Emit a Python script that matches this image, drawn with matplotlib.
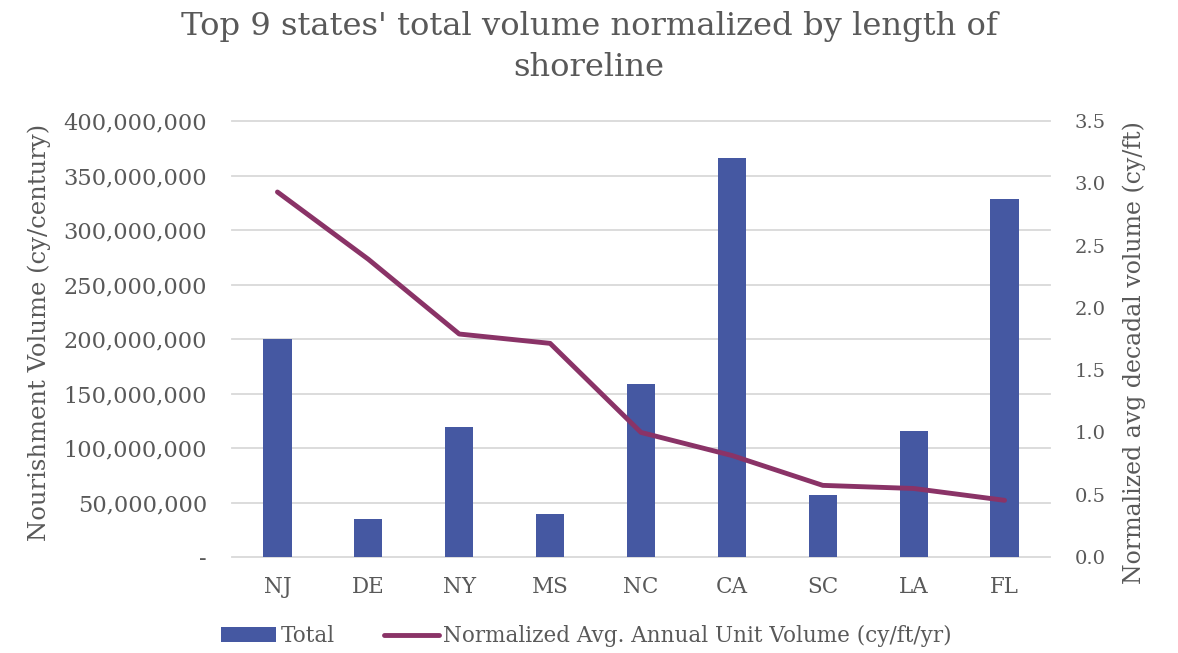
import matplotlib
matplotlib.use("Agg")
import matplotlib.pyplot as plt
from matplotlib.ticker import FuncFormatter, MultipleLocator

states = ["NJ", "DE", "NY", "MS", "NC", "CA", "SC", "LA", "FL"]
total_volume = [200e6, 34.5e6, 119.5e6, 39e6, 159e6, 366.5e6, 56.5e6, 116e6, 328.5e6]
unit_volume = [2.93, 2.39, 1.79, 1.715, 1.00, 0.815, 0.575, 0.55, 0.455]

title_line1 = "Top 9 states' total volume normalized by length of"
title_line2 = "shoreline"
left_label = "Nourishment Volume (cy/century)"
right_label = "Normalized avg decadal volume (cy/ft)"
bar_name = "Total"
line_name = "Normalized Avg. Annual Unit Volume (cy/ft/yr)"

TXT = "#595959"
BAR = "#4558A2"
LINE = "#8A3367"
GRID = "#D9D9D9"
FONT = "DejaVu Serif"

plt.rcParams['font.family'] = [FONT]

fig = plt.figure(figsize=(11.78, 6.53), dpi=100)
ax = fig.add_axes([232/1178, 1-557/653, (1050-232)/1178, (557-121)/653])
ax2 = ax.twinx()

x = list(range(len(states)))
bars = ax.bar(x, total_volume, width=0.31, color=BAR, zorder=2, label=bar_name)
ax.set_ylim(0, 400e6)
ax.set_xlim(-0.5, len(states) - 0.5)
ax.yaxis.set_major_locator(MultipleLocator(50e6))
ax.yaxis.set_major_formatter(FuncFormatter(lambda v, p: "-" if v == 0 else f"{int(v):,}"))
ax.grid(axis='y', color=GRID, linewidth=1.3, zorder=0)
ax.set_axisbelow(True)
ax.set_xticks(x)
ax.set_xticklabels(states)
for gl in ax.get_ygridlines():
    gl.set_clip_on(False)

ln, = ax2.plot(x, unit_volume, color=LINE, linewidth=3.5, solid_capstyle='round', zorder=3, label=line_name)
ax2.set_ylim(0, 3.5)
ax2.yaxis.set_major_locator(MultipleLocator(0.5))
ax2.yaxis.set_major_formatter(FuncFormatter(lambda v, p: f"{v:.1f}"))

for a in (ax, ax2):
    for s in a.spines.values():
        s.set_visible(False)
    a.tick_params(length=0, colors=TXT)
ax.tick_params(axis='y', pad=18, labelsize=16.2)
ax.tick_params(axis='x', pad=14, labelsize=15.5)
ax2.tick_params(axis='y', pad=18, labelsize=14)

ax.set_ylabel(left_label, color=TXT, fontsize=17.5, labelpad=9)
ax2.set_ylabel(right_label, color=TXT, fontsize=17, labelpad=12)
ax.yaxis.label.set_y(0.515)
ax2.yaxis.label.set_y(0.47)

fig.text(0.5, 1-27/653, title_line1, color=TXT, fontsize=23.2, ha='center', va='center')
fig.text(0.5, 1-67/653, title_line2, color=TXT, fontsize=23.2, ha='center', va='center')

fig.legend([bars, ln], [bar_name, line_name], loc='center', bbox_to_anchor=(0.498, 1-636/653),
           ncol=2, frameon=False, fontsize=15.5, labelcolor=TXT, handlelength=2.55,
           handletextpad=0.2, columnspacing=2.3)

fig.savefig("out.png", dpi=100, facecolor="white")
